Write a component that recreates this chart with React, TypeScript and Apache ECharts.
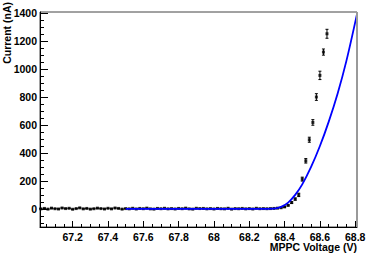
import React, { useEffect, useRef } from "react";
import * as echarts from "echarts";

// MPPC voltage (V) of each measured point
const voltages = [
  67.02, 67.04, 67.06, 67.08, 67.1, 67.12, 67.14, 67.16,
  67.18, 67.2, 67.22, 67.24, 67.26, 67.28, 67.3, 67.32,
  67.34, 67.36, 67.38, 67.4, 67.42, 67.44, 67.46, 67.48,
  67.5, 67.52, 67.54, 67.56, 67.58, 67.6, 67.62, 67.64,
  67.66, 67.68, 67.7, 67.72, 67.74, 67.76, 67.78, 67.8,
  67.82, 67.84, 67.86, 67.88, 67.9, 67.92, 67.94, 67.96,
  67.98, 68.0, 68.02, 68.04, 68.06, 68.08, 68.1, 68.12,
  68.14, 68.16, 68.18, 68.2, 68.22, 68.24, 68.26, 68.28,
  68.3, 68.32, 68.34, 68.36, 68.38, 68.4, 68.42, 68.44,
  68.46, 68.48, 68.5, 68.52, 68.54, 68.56, 68.58, 68.6,
  68.62, 68.64,
];
// measured current (nA)
const currents = [
  0, 3, -2, 5, 1, -1, 6, 2,
  4, -3, 2, 7, 0, 3, -2, 1,
  5, 2, -1, 4, 0, 6, 3, -2,
  2, 0, 4, -1, 3, 1, 5, 0,
  -2, 3, 1, 4, 0, 2, -1, 3,
  1, 5, 0, -2, 4, 2, 3, 0,
  2, -1, 3, 1, 0, 4, -2, 2,
  1, 3, 0, 2, -1, 4, 1, 2,
  1, 2, 3, 5, 8, 14, 25, 45,
  70, 100, 213, 344, 495, 619, 801, 956,
  1123, 1254,
];
// error on current (nA)
const errors = [
  1, 1, 1, 1, 1, 1, 1, 1,
  1, 1, 1, 1, 1, 1, 1, 1,
  1, 1, 1, 1, 1, 1, 1, 1,
  1, 1, 1, 1, 1, 1, 1, 1,
  1, 1, 1, 1, 1, 1, 1, 1,
  1, 1, 1, 1, 1, 1, 1, 1,
  1, 1, 1, 1, 1, 1, 1, 1,
  1, 1, 1, 1, 1, 1, 1, 1,
  1, 1, 2, 2, 2, 3, 4, 6,
  8, 12, 14, 16, 18, 20, 24, 30,
  22, 32,
];

// fitted curve
const fitVoltages = [67.5, 67.8, 68.1, 68.3, 68.34, 68.38, 68.42, 68.46, 68.5, 68.55, 68.6, 68.65, 68.7, 68.75, 68.81];
const fitCurrents = [0, 0, 0, 0, 1, 14, 45, 100, 175, 300, 450, 625, 825, 1060, 1395];

// ticks
const xMajorTicks = [67.2, 67.4, 67.6, 67.8, 68, 68.2, 68.4, 68.6, 68.8];
const xMinorTicks = [
  67.05, 67.1, 67.15, 67.25, 67.3, 67.35, 67.45, 67.5, 67.55, 67.65, 67.7, 67.75,
  67.85, 67.9, 67.95, 68.05, 68.1, 68.15, 68.25, 68.3, 68.35, 68.45, 68.5, 68.55,
  68.65, 68.7, 68.75,
];
const yMajorTicks = [0, 200, 400, 600, 800, 1000, 1200, 1400];
const yMinorTicks = [
  -100, -50, 50, 100, 150, 250, 300, 350, 450, 500, 550, 650, 700, 750,
  850, 900, 950, 1050, 1100, 1150, 1250, 1300, 1350,
];

const X_MIN = 67.015;
const X_MAX = 68.81;
const Y_MIN = -130;
const Y_MAX = 1410;

const FONT = "'Liberation Sans', Arial, Helvetica, sans-serif";

export default function App() {
  const ref = useRef<HTMLDivElement>(null);
  useEffect(() => {
    if (!ref.current) return;
    const chart = echarts.init(ref.current, null, { renderer: "svg" });
    const labelStyle = {
      fontFamily: FONT,
      fontWeight: "bold" as const,
      fontSize: 10.5,
      color: "#000",
    };
    const fmt = (v: number) => String(+Number(v).toFixed(2));
    const points = voltages.map((v, i) => [v, currents[i], errors[i]]);
    const fit = fitVoltages.map((v, i) => [v, fitCurrents[i]]);
    chart.setOption({
      animation: false,
      grid: {
        left: 40,
        top: 12,
        width: 317,
        height: 215,
        show: true,
        borderColor: "#444",
        borderWidth: 1,
        backgroundColor: "transparent",
      },
      xAxis: [
        {
          type: "value",
          min: X_MIN,
          max: X_MAX,
          position: "bottom",
          axisLine: { show: true, onZero: false, lineStyle: { color: "#000", width: 1 } },
          axisTick: { show: true, inside: true, length: 6, customValues: xMajorTicks, lineStyle: { color: "#000" } },
          axisLabel: { ...labelStyle, margin: 4, customValues: xMajorTicks, formatter: fmt },
          splitLine: { show: false },
        },
        {
          type: "value",
          min: X_MIN,
          max: X_MAX,
          position: "bottom",
          axisLine: { show: false, onZero: false },
          axisTick: { show: true, inside: true, length: 3, customValues: xMinorTicks, lineStyle: { color: "#000" } },
          axisLabel: { show: false },
          splitLine: { show: false },
        },
      ],
      yAxis: [
        {
          type: "value",
          min: Y_MIN,
          max: Y_MAX,
          position: "left",
          axisLine: { show: true, onZero: false, lineStyle: { color: "#000", width: 1 } },
          axisTick: { show: true, inside: true, length: 8, customValues: yMajorTicks, lineStyle: { color: "#000" } },
          axisLabel: { ...labelStyle, margin: 3, customValues: yMajorTicks, formatter: fmt },
          splitLine: { show: false },
        },
        {
          type: "value",
          min: Y_MIN,
          max: Y_MAX,
          position: "left",
          axisLine: { show: false, onZero: false },
          axisTick: { show: true, inside: true, length: 4, customValues: yMinorTicks, lineStyle: { color: "#000" } },
          axisLabel: { show: false },
          splitLine: { show: false },
        },
      ],
      graphic: [
        {
          type: "line",
          shape: { x1: 357, y1: 12, x2: 357, y2: 227 },
          style: { stroke: "#999", lineWidth: 2 },
          z: 10,
        },
        {
          type: "text",
          x: 357,
          y: 247,
          style: {
            text: "MPPC Voltage (V)",
            fontFamily: FONT,
            fontWeight: "bold",
            fontSize: 10.5,
            fill: "#000",
            align: "right",
            verticalAlign: "middle",
          },
        },
        {
          type: "text",
          x: 7,
          y: 2,
          rotation: Math.PI / 2,
          style: {
            text: "Current (nA)",
            fontFamily: FONT,
            fontWeight: "bold",
            fontSize: 10.5,
            fill: "#000",
            align: "right",
            verticalAlign: "middle",
          },
        },
      ],
      series: [
        {
          type: "custom",
          xAxisIndex: 0,
          yAxisIndex: 0,
          z: 2,
          data: points,
          renderItem: (params: any, api: any) => {
            const x = api.value(0);
            const y = api.value(1);
            const e = api.value(2);
            const top = api.coord([x, y + e]);
            const bot = api.coord([x, y - e]);
            const c = 1.5;
            return {
              type: "group",
              children: [
                { type: "line", shape: { x1: top[0], y1: top[1], x2: bot[0], y2: bot[1] }, style: { stroke: "#000", lineWidth: 1 } },
                { type: "line", shape: { x1: top[0] - c, y1: top[1], x2: top[0] + c, y2: top[1] }, style: { stroke: "#000", lineWidth: 1 } },
                { type: "line", shape: { x1: bot[0] - c, y1: bot[1], x2: bot[0] + c, y2: bot[1] }, style: { stroke: "#000", lineWidth: 1 } },
              ],
            };
          },
        },
        {
          type: "scatter",
          xAxisIndex: 0,
          yAxisIndex: 0,
          z: 3,
          symbol: "rect",
          symbolSize: 3,
          itemStyle: { color: "#000" },
          data: points.map((p) => [p[0], p[1]]),
        },
        {
          type: "line",
          xAxisIndex: 0,
          yAxisIndex: 0,
          z: 4,
          data: fit,
          showSymbol: false,
          symbol: "none",
          smooth: 0.3,
          clip: true,
          lineStyle: { color: "#0000ff", width: 1.8 },
        },
      ],
    });
    return () => chart.dispose();
  }, []);
  return (
    <div
      ref={ref}
      style={{ position: "fixed", left: 0, top: 0, width: 374, height: 255, background: "#fff" }}
    />
  );
}
